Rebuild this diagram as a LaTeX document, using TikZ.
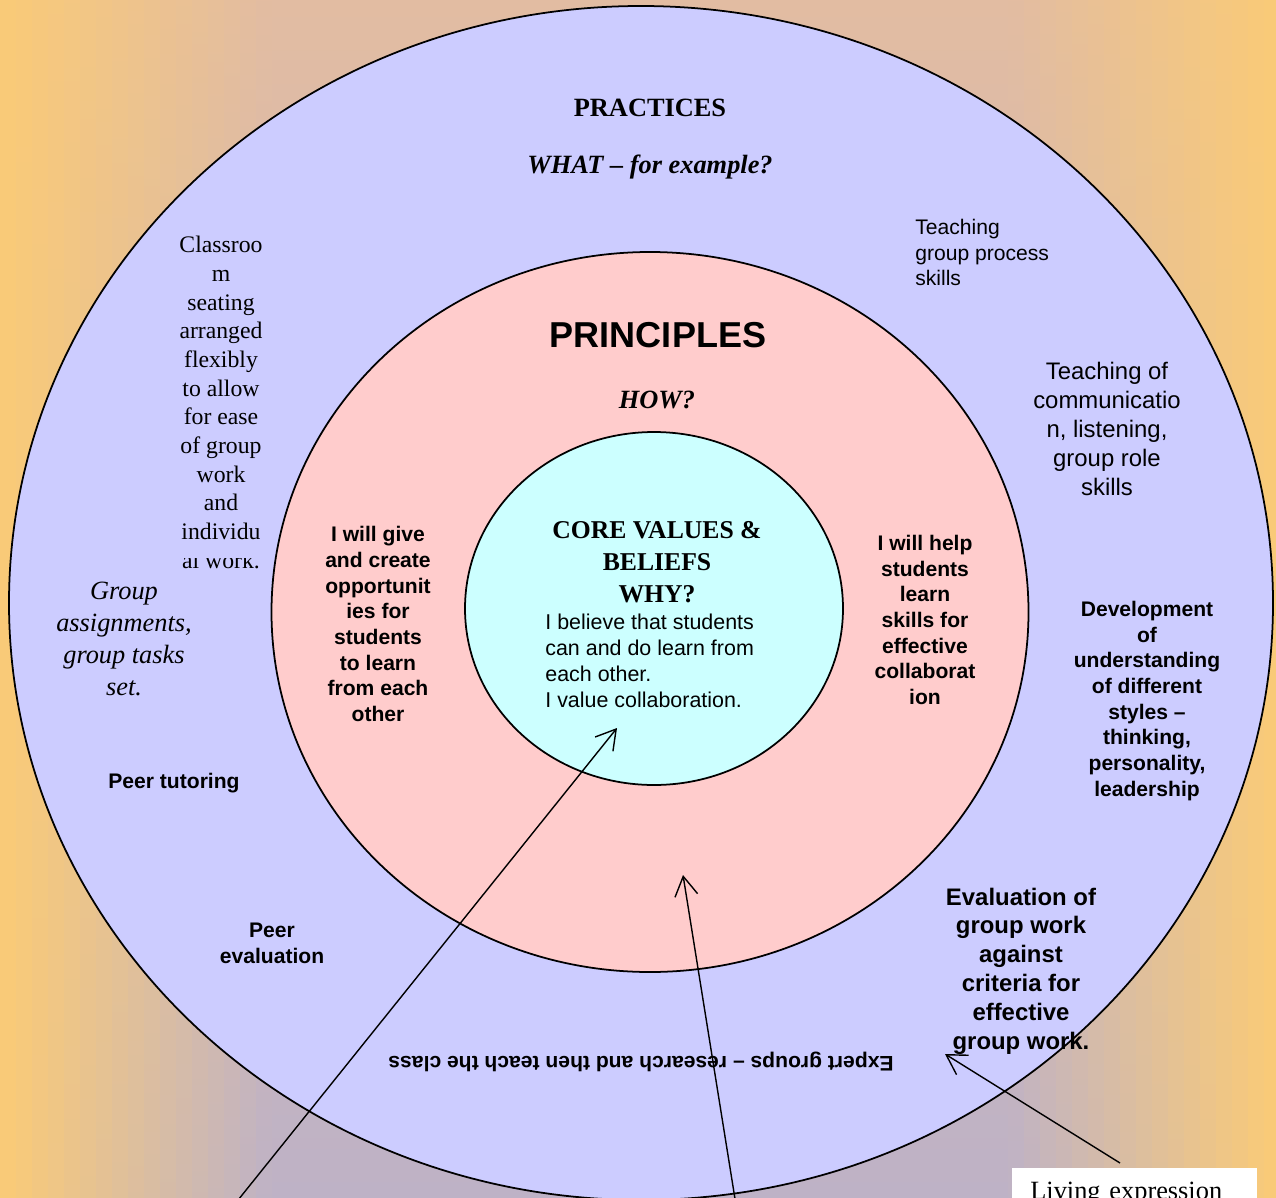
\documentclass[tikz,border=0pt]{standalone}
\usepackage{fontspec}
\setmainfont{Liberation Serif}
\setsansfont{Liberation Sans}
\usetikzlibrary{arrows.meta}

\definecolor{bgorange}{HTML}{F9CA78}
\definecolor{bgtop}{HTML}{E2BCA2}
\definecolor{bgbot}{HTML}{BEB2C6}
\definecolor{practicesblue}{HTML}{CCCCFF}
\definecolor{principlespink}{HTML}{FFCCCC}
\definecolor{corecyan}{HTML}{CCFFFF}

\begin{document}
\begin{tikzpicture}[x=0.2mm, y=-0.2mm,
  ring/.style={draw=black, line width=1pt},
  txt/.style={inner sep=0pt, align=center},
  serifhead/.style={txt, font=\fontsize{15}{18.2}\selectfont\bfseries},
  sanstext/.style={txt, font=\sffamily\fontsize{12}{14.7}\selectfont},
  sansbold/.style={txt, font=\sffamily\bfseries\fontsize{12}{14.6}\selectfont},
  pointer/.style={line width=0.8pt, -{Straight Barb[length=11pt,width=13pt]}}]
  \useasboundingbox (0,0) rectangle (1276,1198);
  \clip (0,0) rectangle (1276,1198);
  % background
  \foreach \i in {0,...,79}{
    \pgfmathsetmacro\w{100*max(0,min(1,(630-abs(16*\i+8-640))/260))}
    \shade[top color=bgtop!\w!bgorange, bottom color=bgbot!\w!bgorange]
      (16*\i,0) rectangle ++(17,1198);
  }
  % three rings
  \filldraw[ring, fill=practicesblue]   (641,603)   ellipse [x radius=632, y radius=597];
  \filldraw[ring, fill=principlespink]  (650,612)   ellipse [x radius=378.5, y radius=360];
  \filldraw[ring, fill=corecyan]        (654,608.5) ellipse [x radius=189, y radius=176.5];
  % practices
  \node[serifhead] (practices) at (650,108) {PRACTICES};
  \node[serifhead, font=\fontsize{15}{18.2}\selectfont\bfseries\itshape] (what) at (650,167) {WHAT -- for example?};
  \node[txt, font=\fontsize{13.5}{16.3}\selectfont] (classroom) at (221,388)
    {Classroo\\m\\seating\\arranged\\flexibly\\to allow\\for ease\\of group\\work\\and\\individu};
  \begin{scope}
    \clip (150,558) rectangle (300,600);
    \node[txt, font=\fontsize{13.5}{16.3}\selectfont] (classroomend) at (221,560) {al work.};
  \end{scope}
  \node[txt, font=\fontsize{15}{18.2}\selectfont\itshape] (group) at (124,639)
    {Group\\assignments,\\group tasks\\set.};
  \node[sansbold] (tutoring) at (174,783) {Peer tutoring};
  \node[sansbold, font=\sffamily\bfseries\fontsize{12}{14.8}\selectfont] (peereval) at (272,943) {Peer\\evaluation};
  \node[sanstext, align=left, anchor=west, font=\sffamily\fontsize{12}{14.5}\selectfont] (process) at (915,252.5)
    {Teaching\\group process\\skills};
  \node[sanstext, font=\sffamily\fontsize{13.6}{16.5}\selectfont] (communication) at (1107,428.5)
    {Teaching of\\communicatio\\n, listening,\\group role\\skills};
  \node[sansbold] (development) at (1147,701)
    {Development\\of\\understanding\\of different\\styles --\\thinking,\\personality,\\leadership};
  \node[sansbold, font=\sffamily\bfseries\fontsize{13.6}{16.4}\selectfont] (evaluation) at (1021,971)
    {Evaluation of\\group work\\against\\criteria for\\effective\\group work.};
  \node[sansbold, rotate=180] (expert) at (641,1062) {Expert groups -- research and then teach the class};
  % principles
  \node[txt, font=\sffamily\bfseries\fontsize{20.5}{24}\selectfont] (principles) at (658,335) {PRINCIPLES};
  \node[serifhead, font=\fontsize{15}{18.2}\selectfont\bfseries\itshape] (how) at (657,400) {HOW?};
  \node[sansbold] (give) at (378,624)
    {I will give\\and create\\opportunit\\ies for\\students\\to learn\\from each\\other};
  \node[sansbold] (help) at (925,620)
    {I will help\\students\\learn\\skills for\\effective\\collaborat\\ion};
  % core values
  \node[txt, font=\fontsize{14.6}{18.2}\selectfont\bfseries] (coretitle) at (657,562)
    {CORE VALUES \&\\BELIEFS\\WHY?};
  \node[sanstext, align=left, anchor=west, font=\sffamily\fontsize{12.2}{14.8}\selectfont] (corebody) at (545,661)
    {I believe that students\\can and do learn from\\each other.\\I value collaboration.};
  % note box
  \node[fill=white, anchor=north west, inner xsep=3.6mm, inner ysep=8pt,
        text width=41.8mm, align=left, font=\fontsize{15}{18}\selectfont] (living) at (1012,1168)
    {Living expression};
  % pointers
  \coordinate (coretip)   at (617,728);
  \coordinate (coretail)  at (214,1230);
  \coordinate (pinktip)   at (683,875);
  \coordinate (pinktail)  at (740,1230);
  \coordinate (evaltip)   at (945,1054);
  \coordinate (evaltail)  at (1120,1163);
  \draw[pointer] (coretail) -- (coretip);
  \draw[pointer] (pinktail) -- (pinktip);
  \draw[pointer] (evaltail) -- (evaltip);
\end{tikzpicture}
\end{document}
